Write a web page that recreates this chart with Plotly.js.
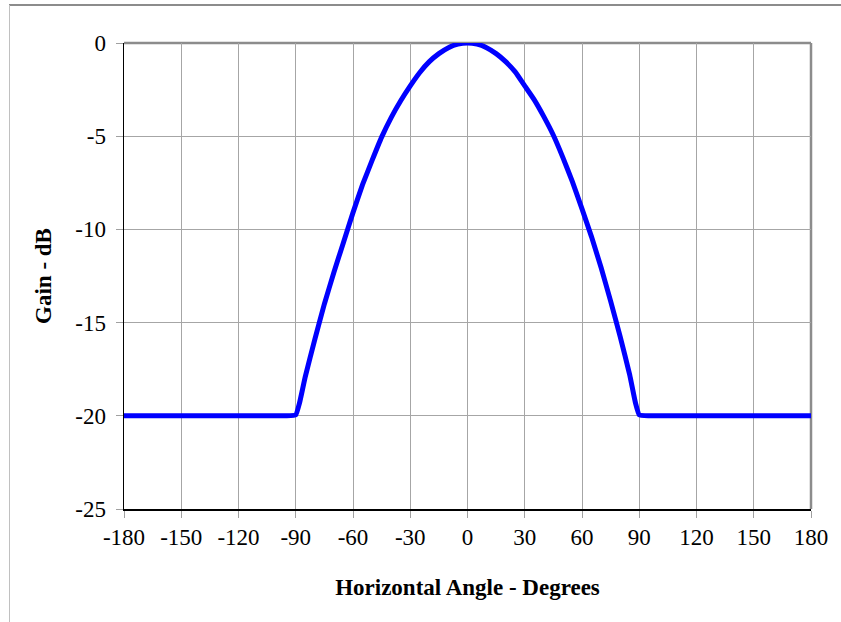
<!DOCTYPE html>
<html>
<head>
<meta charset="utf-8">
<script src="https://cdn.plot.ly/plotly-3.0.1.min.js"></script>
<style>
html,body{margin:0;padding:0;background:#fff;}
#chart{width:841px;height:622px;}
</style>
</head>
<body>
<div id="chart"></div>
<script>
// Horizontal angle (degrees)
var angles = [-180, -150, -120, -95, -90, -88, -85, -80, -75, -70, -65, -60, -55, -50, -45, -40, -35, -30, -25, -20, -15, -10, -5, 0,
              5, 10, 15, 20, 25, 30, 35, 40, 45, 50, 55, 60, 65, 70, 75, 80, 85, 88, 90, 95, 120, 150, 180];
// Gain (dB)
var gains = [-20, -20, -20, -20, -19.95, -19.3, -17.9, -15.9, -14.0, -12.3, -10.7, -9.1, -7.6, -6.3, -5.05, -4.0, -3.1, -2.3, -1.58, -1.0, -0.57, -0.25, -0.06, 0,
             -0.06, -0.25, -0.57, -1.0, -1.55, -2.3, -3.05, -3.95, -4.95, -6.15, -7.45, -8.9, -10.4, -12.05, -13.85, -15.75, -17.8, -19.3, -19.95, -20, -20, -20, -20];

var xTicks = [-180, -150, -120, -90, -60, -30, 0, 30, 60, 90, 120, 150, 180];
var yTicks = [-25, -20, -15, -10, -5, 0];

var serif = "Liberation Serif, Times New Roman, serif";

var trace = {
  x: angles, y: gains, type: 'scatter', mode: 'lines',
  line: {color: '#0000FF', width: 5, shape: 'spline', smoothing: 0.35},
  cliponaxis: false, hoverinfo: 'skip'
};

var W = 841, H = 622, mL = 124, mR = 30, mT = 43, mB = 113;
var pw = W - mL - mR, ph = H - mT - mB;
function px(x){ return (x - mL) / pw; }
function py(y){ return (H - mB - y) / ph; }

var layout = {
  width: W, height: H,
  margin: {l: mL, r: mR, t: mT, b: mB, pad: 0},
  paper_bgcolor: '#ffffff', plot_bgcolor: '#ffffff',
  showlegend: false,
  font: {family: serif, color: '#000'},
  xaxis: {
    range: [-180, 180], tickvals: xTicks, ticktext: xTicks.map(String),
    showgrid: true, gridcolor: '#a6a6a6', gridwidth: 1,
    zeroline: false, showline: true, linecolor: '#000', linewidth: 1.5,
    ticks: 'outside', ticklen: 7, tickcolor: '#a0a0a0', tickwidth: 1,
    tickfont: {family: serif, size: 23, color: '#000'},
    title: {text: 'Horizontal Angle - Degrees', font: {family: serif, size: 23, color: '#000', weight: 'bold'}, standoff: 30},
    fixedrange: true
  },
  yaxis: {
    range: [-25, 0], tickvals: yTicks, ticktext: yTicks.map(String),
    showgrid: true, gridcolor: '#a6a6a6', gridwidth: 1,
    zeroline: false, showline: true, linecolor: '#000', linewidth: 1.5,
    ticks: 'outside', ticklen: 7, tickcolor: '#a0a0a0', tickwidth: 1,
    ticklabelstandoff: 5,
    tickfont: {family: serif, size: 23, color: '#000'},
    title: {text: 'Gain - dB', font: {family: serif, size: 23, color: '#000', weight: 'bold'}, standoff: 17},
    fixedrange: true
  },
  shapes: [
    {type: 'line', xref: 'paper', yref: 'paper', x0: 0, x1: 1, y0: 1, y1: 1, line: {color: '#8c8c8c', width: 2.5}, layer: 'between'},
    {type: 'line', xref: 'paper', yref: 'paper', x0: 1, x1: 1, y0: 0, y1: 1, line: {color: '#8c8c8c', width: 2.5}, layer: 'between'},
    {type: 'line', xref: 'paper', yref: 'paper', x0: px(9), x1: px(841), y0: py(5), y1: py(5), line: {color: '#666666', width: 1.5}},
    {type: 'line', xref: 'paper', yref: 'paper', x0: px(9.5), x1: px(9.5), y0: py(5), y1: py(622), line: {color: '#c0c0c0', width: 1}}
  ]
};

Plotly.newPlot('chart', [trace], layout, {staticPlot: true, displayModeBar: false});
</script>
</body>
</html>
